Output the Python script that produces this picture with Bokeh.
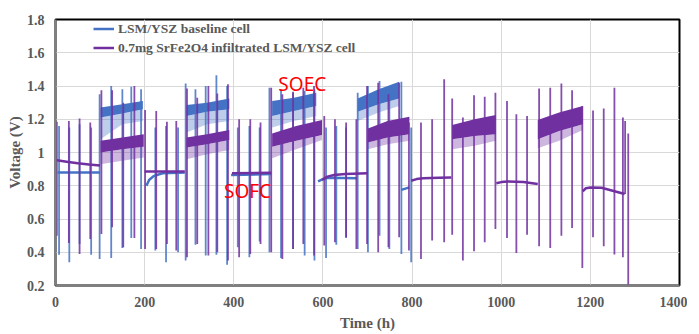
from bokeh.plotting import figure
from bokeh.models import (Legend, LegendItem, Range1d, FixedTicker,
                          CustomJSTickFormatter, Label)
from bokeh.embed import file_html
from bokeh.resources import INLINE

BLUE = "#4472C4"
PURPLE = "#7030A0"
GREY = "#595959"

series_names = ["LSM/YSZ baseline cell", "0.7mg SrFe2O4 infiltrated LSM/YSZ cell"]

# ---- SOFC (fuel cell) constant-current segments: time (h) and voltage (V)
blue_sofc_t = [[5, 100], [204, 210, 220, 240, 290], [394, 484],
               [589, 600, 612, 676], [776, 794]]
blue_sofc_v = [[0.88, 0.88], [0.80, 0.835, 0.858, 0.875, 0.88], [0.865, 0.87],
               [0.826, 0.84, 0.848, 0.845], [0.775, 0.79]]

purple_sofc_t = [[0, 25, 50, 75, 100], [200, 290], [396, 484],
                 [598, 610, 625, 650, 700], [798, 810, 825, 860, 888],
                 [989, 1000, 1015, 1050, 1082], [1183, 1190, 1200, 1225, 1250, 1277]]
purple_sofc_v = [[0.955, 0.945, 0.935, 0.928, 0.922], [0.886, 0.886], [0.875, 0.878],
                 [0.835, 0.855, 0.865, 0.87, 0.875], [0.83, 0.84, 0.845, 0.848, 0.85],
                 [0.815, 0.822, 0.826, 0.822, 0.811], [0.766, 0.785, 0.79, 0.788, 0.77, 0.75]]

# ---- SOEC (electrolysis) noisy segments: dense band (lo..hi) and noise tail
blue_soec_t = [[101, 150, 196], [294, 340, 390], [486, 535, 585], [678, 725, 771]]
blue_soec_hi = [[1.27, 1.29, 1.31], [1.285, 1.30, 1.325], [1.31, 1.33, 1.36], [1.325, 1.38, 1.425]]
blue_soec_lo = [[1.21, 1.235, 1.26], [1.22, 1.245, 1.26], [1.22, 1.25, 1.28], [1.245, 1.29, 1.325]]
blue_soec_tail = [[1.08, 1.17, 1.19], [1.12, 1.17, 1.19], [1.15, 1.19, 1.22], [1.19, 1.24, 1.28]]

purple_soec_t = [[101, 150, 198], [294, 340, 390], [486, 540, 598], [701, 745, 794],
                 [890, 940, 988], [1082, 1130, 1183]]
purple_soec_hi = [[1.07, 1.09, 1.11], [1.09, 1.11, 1.135], [1.115, 1.16, 1.195],
                  [1.145, 1.19, 1.215], [1.165, 1.20, 1.225], [1.195, 1.24, 1.28]]
purple_soec_lo = [[1.00, 1.02, 1.035], [1.03, 1.05, 1.075], [1.035, 1.07, 1.105],
                  [1.06, 1.09, 1.11], [1.08, 1.10, 1.11], [1.08, 1.13, 1.17]]
purple_soec_tail = [[0.93, 0.95, 0.97], [0.96, 0.99, 1.015], [0.965, 1.02, 1.075],
                    [1.02, 1.05, 1.07], [1.02, 1.04, 1.07], [1.025, 1.07, 1.135]]

# ---- periodic characterisation spikes: time, top and bottom voltage
blue_spike_t = [8, 31, 54, 80, 99, 125, 150, 170, 192, 224, 248, 275, 292, 314, 337, 361,
                385, 409, 435, 458, 480, 506, 533, 559, 581, 607, 630, 652, 678, 701, 727,
                749, 776, 798]
blue_spike_top = [1.16, 1.15, 1.17, 1.15, 1.35, 1.40, 1.38, 1.395, 1.38, 1.15, 1.16, 1.15,
                  1.415, 1.38, 1.40, 1.465, 1.40, 1.15, 1.16, 1.15, 1.39, 1.38, 1.36, 1.37,
                  1.38, 1.15, 1.16, 1.15, 1.36, 1.40, 1.43, 1.38, 1.425, 1.15]
blue_spike_bot = [0.385, 0.34, 0.45, 0.385, 0.36, 0.365, 0.425, 0.485, 0.42, 0.41, 0.34, 0.40,
                  0.35, 0.445, 0.38, 0.385, 0.325, 0.43, 0.37, 0.465, 0.40, 0.365, 0.42, 0.38,
                  0.35, 0.365, 0.445, 0.485, 0.42, 0.40, 0.50, 0.42, 0.39, 0.34]

purple_spike_t = [3, 30, 54, 78, 103, 127, 152, 177, 201, 226, 250, 271, 295, 318, 343, 363,
                  387, 412, 437, 460, 484, 509, 533, 556, 580, 603, 627, 652, 675, 699, 724,
                  747, 771, 793, 820, 845, 872, 890, 914, 939, 963, 987, 1013, 1034, 1058,
                  1085, 1110, 1135, 1159, 1182, 1206, 1230, 1254, 1273, 1278, 1285]
purple_spike_top = [1.185, 1.19, 1.205, 1.18, 1.375, 1.375, 1.30, 1.40, 1.255, 1.25, 1.185,
                    1.19, 1.385, 1.33, 1.40, 1.355, 1.41, 1.20, 1.20, 1.18, 1.39, 1.35, 1.365,
                    1.39, 1.40, 1.22, 1.20, 1.18, 1.20, 1.40, 1.42, 1.35, 1.42, 1.18, 1.18,
                    1.20, 1.44, 1.325, 1.21, 1.345, 1.335, 1.36, 1.31, 1.23, 1.22, 1.385,
                    1.39, 1.415, 1.375, 1.28, 1.253, 1.265, 1.389, 1.211, 1.189, 1.115]
purple_spike_bot = [0.50, 0.455, 0.39, 0.48, 0.51, 0.55, 0.43, 0.485, 0.42, 0.42, 0.45, 0.41,
                    0.37, 0.45, 0.38, 0.40, 0.35, 0.37, 0.39, 0.45, 0.40, 0.36, 0.42, 0.45,
                    0.38, 0.44, 0.46, 0.49, 0.42, 0.45, 0.40, 0.43, 0.49, 0.41, 0.36, 0.47,
                    0.46, 0.506, 0.35, 0.406, 0.46, 0.54, 0.486, 0.396, 0.506, 0.436, 0.426,
                    0.50, 0.546, 0.306, 0.49, 0.436, 0.386, 0.37, 0.75, 0.2]

# ---- axes and annotations
x_ticks = [0, 200, 400, 600, 800, 1000, 1200, 1400]
y_ticks = [0.2, 0.4, 0.6, 0.8, 1.0, 1.2, 1.4, 1.6, 1.8]
x_title = "Time (h)"
y_title = "Voltage (V)"
mode_labels = ["SOEC", "SOFC"]
mode_label_t = [500, 378]
mode_label_v = [1.335, 0.69]

p = figure(width=687, height=333, output_backend="svg", toolbar_location=None,
           x_range=Range1d(0, 1400), y_range=Range1d(0.2, 1.8),
           min_border_left=55, min_border_top=19, min_border_right=8, min_border_bottom=46)
p.background_fill_color = "white"
p.border_fill_color = "white"
p.outline_line_color = "black"
p.outline_line_width = 2

for ax, ticks in ((p.xaxis[0], x_ticks), (p.yaxis[0], y_ticks)):
    ax.ticker = FixedTicker(ticks=ticks)
    ax.major_tick_line_color = None
    ax.minor_tick_line_color = None
    ax.major_tick_out = 0
    ax.major_tick_in = 0
    ax.axis_line_color = "#808080"
    ax.axis_line_width = 2
    ax.major_label_text_font = "Liberation Serif"
    ax.major_label_text_font_style = "bold"
    ax.major_label_text_font_size = "14px"
    ax.major_label_text_color = GREY
    ax.axis_label_text_font = "Liberation Serif"
    ax.axis_label_text_font_style = "bold"
    ax.axis_label_text_font_size = "15px"
    ax.axis_label_text_color = GREY
p.yaxis[0].formatter = CustomJSTickFormatter(code="return String(Math.round(tick*10)/10);")
p.xaxis[0].axis_label = x_title
p.yaxis[0].axis_label = y_title
p.xaxis[0].major_label_standoff = 11
p.yaxis[0].major_label_standoff = 11
p.xaxis[0].axis_label_standoff = 5
p.yaxis[0].axis_label_standoff = 1

p.xgrid.ticker = FixedTicker(ticks=x_ticks)
p.ygrid.ticker = FixedTicker(ticks=y_ticks)
p.grid.grid_line_color = "#D9D9D9"
p.grid.grid_line_width = 1

def draw_series(color, sofc_t, sofc_v, soec_t, soec_hi, soec_lo, soec_tail, sp_t, sp_top, sp_bot):
    p.segment(x0=sp_t, y0=sp_bot, x1=sp_t, y1=sp_top, line_color=color,
              line_width=1.8, line_alpha=0.85)
    for t, hi, lo, tail in zip(soec_t, soec_hi, soec_lo, soec_tail):
        p.varea(x=t, y1=tail, y2=lo, fill_color=color, fill_alpha=0.35)
        p.varea(x=t, y1=lo, y2=hi, fill_color=color, fill_alpha=1.0)
    r = p.multi_line(xs=sofc_t, ys=sofc_v, line_color=color, line_width=2.5)
    return r

rb = draw_series(BLUE, blue_sofc_t, blue_sofc_v, blue_soec_t, blue_soec_hi, blue_soec_lo,
                 blue_soec_tail, blue_spike_t, blue_spike_top, blue_spike_bot)
rp = draw_series(PURPLE, purple_sofc_t, purple_sofc_v, purple_soec_t, purple_soec_hi,
                 purple_soec_lo, purple_soec_tail, purple_spike_t, purple_spike_top,
                 purple_spike_bot)

for txt, t, v in zip(mode_labels, mode_label_t, mode_label_v):
    p.add_layout(Label(x=t, y=v, text=txt, text_color="red", text_font="Noto Sans",
                       text_font_size="19px"))

legend = Legend(items=[LegendItem(label=series_names[0], renderers=[rb]),
                       LegendItem(label=series_names[1], renderers=[rp])],
                location=(38, 228))
legend.padding = 0
legend.margin = 0
legend.spacing = 0
legend.glyph_width = 21
legend.glyph_height = 19
legend.label_height = 19
legend.label_standoff = 4
legend.label_text_font = "Liberation Serif"
legend.label_text_font_style = "bold"
legend.label_text_font_size = "13.5px"
legend.label_text_color = GREY
legend.border_line_color = None
legend.background_fill_alpha = 0
p.add_layout(legend)

open("out.html", "w").write(file_html(p, INLINE))
